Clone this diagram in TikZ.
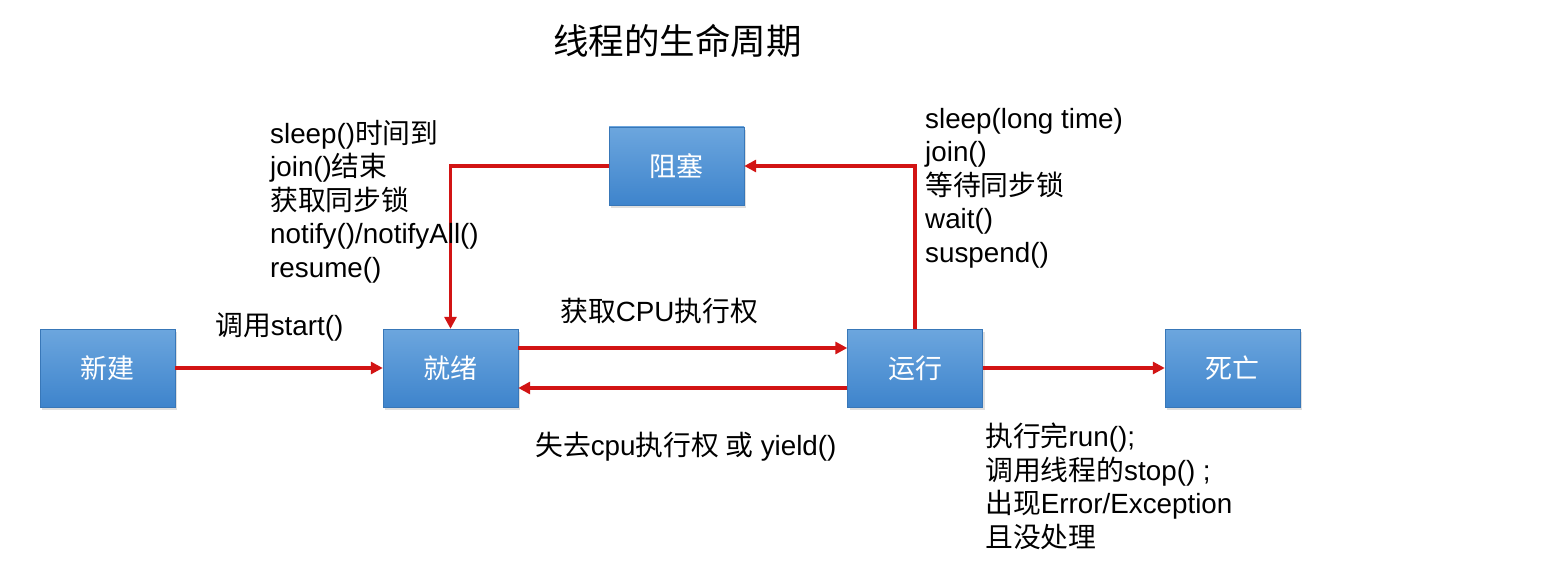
\documentclass[tikz,border=0pt]{standalone}
\usepackage{fontspec}
\setmainfont{Liberation Sans}
\newfontfamily\cjkf{Noto Sans CJK SC}
\newcommand\zhf[1]{{\cjkf #1}}
\usetikzlibrary{arrows.meta,shadows}
\definecolor{boxtop}{RGB}{108,166,222}
\definecolor{boxbot}{RGB}{62,132,204}
\definecolor{arrred}{RGB}{210,20,20}
\tikzset{
  statebox/.style={rectangle, minimum width=135pt, minimum height=78pt, inner sep=0pt,
    top color=boxtop, bottom color=boxbot, draw=boxbot!90!black, line width=0.4pt,
    drop shadow={shadow xshift=2pt, shadow yshift=-3pt, opacity=0.25},
    text=white, font=\cjkf\fontsize{27}{30}\selectfont},
  arr/.style={draw=arrred, line width=3.2pt, -{Triangle[length=12pt,width=12pt]}},
  lbl/.style={inner sep=0pt, align=left, font=\fontsize{27.8}{33.4}\selectfont, text=black}
}
\begin{document}
\begin{tikzpicture}[x=1pt,y=-1pt]
\path[use as bounding box, fill=white] (0,0) rectangle (1562,580);

\node[inner sep=0pt, anchor=base west, font=\cjkf\fontsize{35.5}{40}\selectfont] (title) at (553,55) {线程的生命周期};

\node[statebox] (xj) at (107.5,368) {新建};
\node[statebox] (jx) at (450.5,368) {就绪};
\node[statebox] (yx) at (915,368) {运行};
\node[statebox] (sw) at (1232.5,368) {死亡};
\node[statebox] (zs) at (676.5,166) {阻塞};

\draw[arr] (xj.east) -- (jx.west);
\draw[arr] ([yshift=20pt]jx.east) -- ([yshift=20pt]yx.west);
\draw[arr] ([yshift=-20pt]yx.west) -- ([yshift=-20pt]jx.east);
\draw[arr] (yx.north) |- (zs.east);
\draw[arr] (zs.west) -| (jx.north);
\draw[arr] (yx.east) -- (sw.west);

\node[lbl, anchor=base west] (l1) at (215,335) {\zhf{调用}start()};
\node[lbl, anchor=base west] (l2) at (560,321) {\zhf{获取}CPU\zhf{执行权}};
\node[lbl, anchor=base west] (l3) at (535,455) {\zhf{失去}cpu\zhf{执行权 或} yield()};
\node[lbl, anchor=base west] (l4) at (270,277) {sleep()\zhf{时间到}\\join()\zhf{结束}\\\zhf{获取同步锁}\\notify()/notifyAll()\\resume()};
\node[lbl, anchor=base west] (l5) at (925,262) {sleep(long time)\\join()\\\zhf{等待同步锁}\\wait()\\suspend()};
\node[lbl, anchor=base west] (l6) at (985,547) {\zhf{执行完}run();\\\zhf{调用线程的}stop() ;\\\zhf{出现}Error/Exception\\\zhf{且没处理}};
\end{tikzpicture}
\end{document}
